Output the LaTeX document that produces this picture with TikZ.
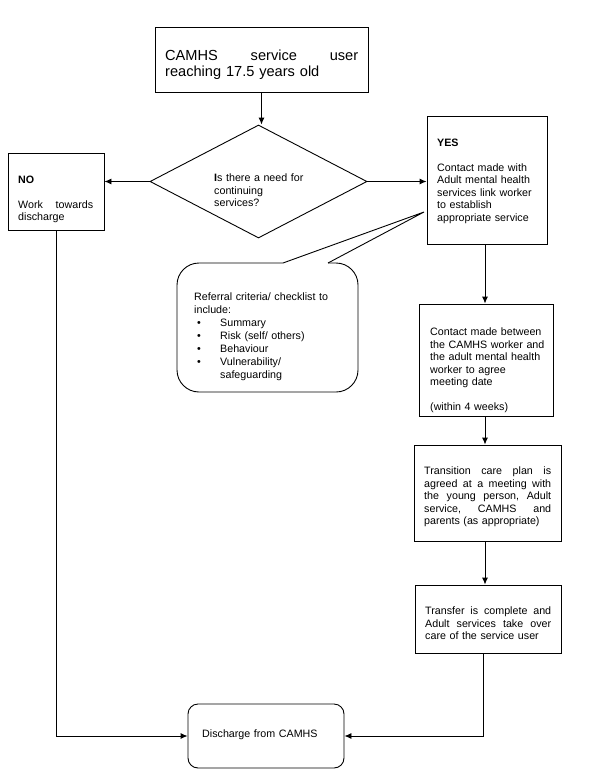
\documentclass[tikz,border=0pt]{standalone}
\usepackage{fontspec}
\setmainfont{Liberation Sans}
\usetikzlibrary{shapes.geometric,arrows.meta}
\begin{document}
\begin{tikzpicture}[x=1pt,y=-1pt,
  box/.style={draw, line width=0.9pt, inner sep=0pt, rectangle},
  txt/.style={anchor=base west, inner sep=0pt, align=left, font=\fontsize{10.7pt}{12.5pt}\selectfont},
  conn/.style={line width=0.9pt},
  arr/.style={conn, -{Latex[length=7pt,width=6pt]}}]
\useasboundingbox (0,0) rectangle (589,784);
% boxes
\node[box, minimum width=213pt, minimum height=65pt] (top) at (261.5,59.5) {};
\node[draw, diamond, line width=0.9pt, inner sep=0pt, minimum width=217pt, minimum height=113pt] (dia) at (258.5,181.5) {};
\node[box, minimum width=96pt, minimum height=77pt] (no) at (56,191.5) {};
\node[box, minimum width=120pt, minimum height=128pt] (yes) at (487,180) {};
\node[box, minimum width=134pt, minimum height=112pt] (b2) at (486,360) {};
\node[box, minimum width=147pt, minimum height=96pt] (b3) at (487.5,493) {};
\node[box, minimum width=146pt, minimum height=68pt] (b4) at (488,619) {};
\node[box, rounded corners=10pt, minimum width=156pt, minimum height=64pt] (dis) at (266,736) {};
\coordinate (col) at (485,0);
\coordinate (colb) at (483,0);
% callout
\coordinate (tip) at (424,212);
\draw[conn, rounded corners=22pt] (283,263) -- (177,263) -- (177,392) -- (358,392) -- (358,263) -- (328,263);
\draw[conn, line join=miter] (283,263) -- (tip) -- (328,263);
% texts
\node[txt, font=\fontsize{14.6pt}{17pt}\selectfont, text width=193pt] (toptxt) at (165,60) {CAMHS \hfill service \hfill user\\reaching 17.5 years old};
\node[txt, text width=100pt] (diatxt) at (214,181.5) {\textbf{I}s there a need for\\continuing\\services?};
\node[txt, text width=75pt] (notxt) at (18,183) {\textbf{NO}\\[12.5pt]Work \hfill towards\\discharge};
\node[txt, text width=105pt] (yestxt) at (437,146) {\textbf{YES}\\[12.5pt]Contact made with\\Adult mental health\\services link worker\\to establish\\appropriate service};
\node[txt, text width=115pt] (b2txt) at (430,335.5) {Contact made between\\the CAMHS worker and\\the adult mental health\\worker to agree\\meeting date\\[12.5pt](within 4 weeks)};
\node[txt, text width=127pt] (b3txt) at (424,474.5) {Transition \hfill care \hfill plan \hfill is\\agreed \hfill at \hfill a \hfill meeting \hfill with\\the \hfill young \hfill person, \hfill Adult\\service, \hfill CAMHS \hfill and\\parents (as appropriate)};
\node[txt, text width=126pt] (b4txt) at (425,614.5) {Transfer \hfill is \hfill complete \hfill and\\Adult \hfill services \hfill take \hfill over\\care of the service user};
\node[txt, text width=140pt] (distxt) at (202,737) {Discharge from CAMHS};
\node[txt, font=\fontsize{10.7pt}{13pt}\selectfont, text width=160pt] (calltxt) at (194,300) {Referral criteria/ checklist to\\include:};
\node[txt, font=\fontsize{10.7pt}{13pt}\selectfont, text width=150pt] (listtxt) at (197,326) {\makebox[23pt][l]{•}Summary\\\makebox[23pt][l]{•}Risk (self/ others)\\\makebox[23pt][l]{•}Behaviour\\\makebox[23pt][l]{•}Vulnerability/\\\hspace*{23pt}safeguarding};
% connectors
\draw[arr] (top.south) -- (top.south |- dia.north);
\draw[arr] (dia.west) -- (dia.west -| no.east);
\draw[arr] (dia.east) -- (dia.east -| yes.west);
\draw[arr] (yes.south -| col) -- (b2.north -| col);
\draw[arr] (b2.south -| col) -- (b3.north -| col);
\draw[arr] (b3.south -| col) -- (b4.north -| col);
\draw[arr] (no.south) |- (dis.west);
\draw[arr] (b4.south -| colb) |- (dis.east);
\end{tikzpicture}
\end{document}
